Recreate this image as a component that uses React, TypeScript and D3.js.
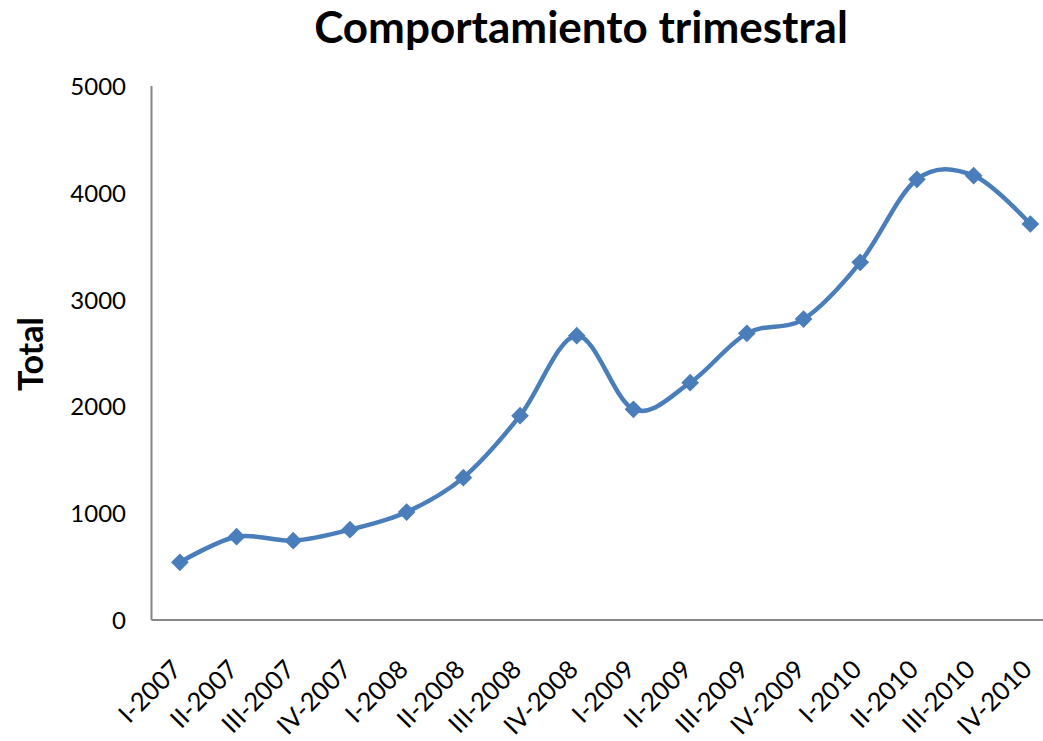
import React from "react";
import * as d3 from "d3";

const categories = [
  "I-2007", "II-2007", "III-2007", "IV-2007",
  "I-2008", "II-2008", "III-2008", "IV-2008",
  "I-2009", "II-2009", "III-2009", "IV-2009",
  "I-2010", "II-2010", "III-2010", "IV-2010",
];
const totals = [540, 780, 743, 846, 1011, 1333, 1913, 2662, 1973, 2222, 2684, 2818, 3349, 4126, 4160, 3708];
const yTicks = [0, 1000, 2000, 3000, 4000, 5000];
const title = "Comportamiento trimestral";
const yTitle = "Total";

const W = 1043;
const H = 741;
const left = 151.5;
const top = 86;
const bottom = 620;
const step = 56.7;
const FONT = "Lato, 'Open Sans', sans-serif";
const BLUE = "#4A7EBB";

export default function App() {
  const x = d3
    .scalePoint<string>()
    .domain(categories)
    .range([left, left + step * categories.length])
    .padding(0.5);
  const y = d3.scaleLinear().domain([0, 5000]).range([bottom, top]);
  const line = d3
    .line<number>()
    .x((_, i) => x(categories[i]) as number)
    .y((d) => y(d))
    .curve(d3.curveCardinal.tension(0));
  const diamond = d3.symbol().type(d3.symbolDiamond2).size(200)();

  return (
    <div style={{ position: "fixed", left: 0, top: 0 }}>
      <svg width={W} height={H} style={{ display: "block", background: "#fff", overflow: "hidden" }}>
        <text x={581} y={43} textAnchor="middle" fontFamily={FONT} fontWeight="bold" fontSize={44} fill="#000">
          {title}
        </text>
        <text
          transform={`translate(43,354) rotate(-90)`}
          textAnchor="middle"
          fontFamily={FONT}
          fontWeight="bold"
          fontSize={34}
          fill="#000"
        >
          {yTitle}
        </text>
        {yTicks.map((t) => (
          <text key={t} x={126} y={y(t) + 9} textAnchor="end" fontFamily={FONT} fontSize={24} fill="#000">
            {t}
          </text>
        ))}
        <line x1={left} x2={left} y1={top} y2={bottom} stroke="#868686" strokeWidth={2} />
        <line x1={left} x2={W + 20} y1={bottom} y2={bottom} stroke="#868686" strokeWidth={2} />
        {categories.map((c) => {
          const cx = x(c) as number;
          return (
            <text
              key={c}
              transform={`translate(${cx + 3},${671}) rotate(-45)`}
              textAnchor="end"
              fontFamily={FONT}
              fontSize={25.5}
              fill="#000"
            >
              {c}
            </text>
          );
        })}
        <path d={line(totals) || ""} fill="none" stroke={BLUE} strokeWidth={4.5} />
        {totals.map((v, i) => (
          <path
            key={i}
            d={diamond || ""}
            transform={`translate(${x(categories[i])},${y(v)})`}
            fill={BLUE}
          />
        ))}
      </svg>
    </div>
  );
}
